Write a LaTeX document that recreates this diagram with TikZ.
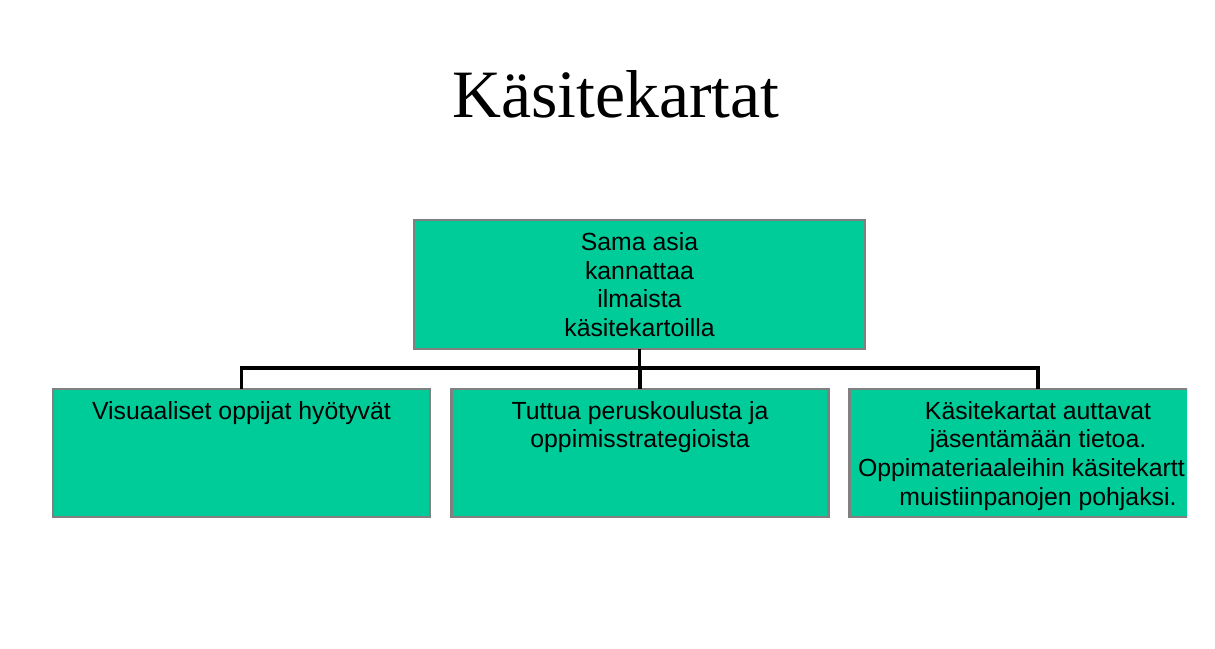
\documentclass[tikz,border=0pt]{standalone}
\usepackage{fontspec}
\setmainfont{Liberation Serif}
\newfontfamily\boxfont{Liberation Sans}
\usetikzlibrary{positioning}
\definecolor{mapgreen}{HTML}{00CC99}
\definecolor{edgegray}{HTML}{808080}

\begin{document}
\begin{tikzpicture}[x=0.75pt, y=-0.75pt,
    heading/.style={font=\fontsize{50.8}{60}\selectfont, inner sep=0pt},
    box/.style={draw=edgegray, line width=2.2pt, fill=mapgreen,
                inner sep=0pt, outer sep=0pt,
                minimum width=282.75pt, minimum height=96pt},
    txt/.style={font=\boxfont\fontsize{18.6}{21.5}\selectfont,
                align=center, inner sep=0pt},
    conn/.style={draw=black, line width=2.3pt}]
  \useasboundingbox (0,0) rectangle (1215,649);
  \begin{scope}
    \clip (0,0) rectangle (1187,649);

    % Title
    \node[heading, anchor=base] (title) at (616,118) {Käsitekartat};

    % Main concept
    \node[box, txt, minimum width=338.25pt, minimum height=96.75pt]
      (main) at (639.5,284.5)
      {Sama asia\\kannattaa\\ilmaista\\käsitekartoilla};

    % Sub concepts
    \foreach \n/\x/\t in {vis/241.5/{Visuaaliset oppijat hyötyvät},
        tut/640/{Tuttua peruskoulusta ja\\oppimisstrategioista},
        jas/1038/{Käsitekartat auttavat\\jäsentämään tietoa.\\Oppimateriaaleihin käsitekartt\phantom{oja}\\muistiinpanojen pohjaksi.}} {
      \node[box] (\n) at (\x,453) {};
      \node[txt, anchor=north, below=9pt of \n.north] (\n-text) {\t};
      \draw[conn] (main.south) -- ++(0,19) -| (\n.north);
    }
  \end{scope}
\end{tikzpicture}
\end{document}
